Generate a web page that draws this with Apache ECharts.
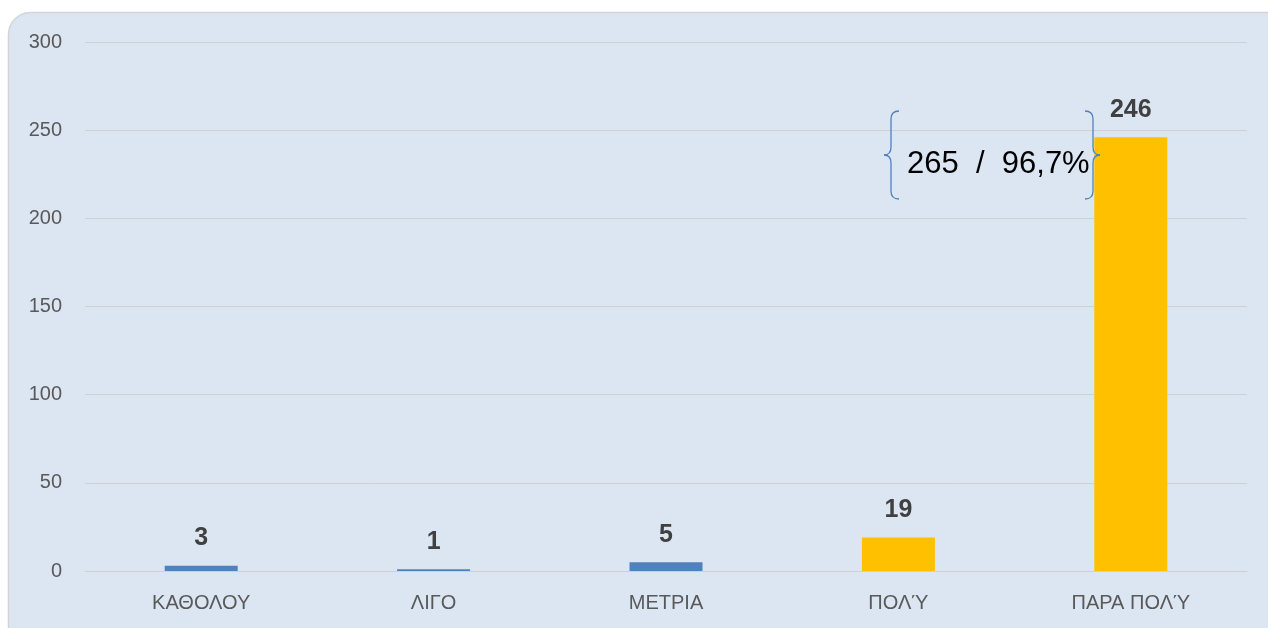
<!DOCTYPE html>
<html>
<head>
<meta charset="utf-8">
<script src="https://cdn.jsdelivr.net/npm/echarts@6/dist/echarts.min.js"></script>
<style>
  html, body { margin: 0; padding: 0; background: #fff; }
  #chart { width: 1268px; height: 628px; }
</style>
</head>
<body>
<div id="chart"></div>
<script>
// data
var categories = ['ΚΑΘΟΛΟΥ', 'ΛΙΓΟ', 'ΜΕΤΡΙΑ', 'ΠΟΛΎ', 'ΠΑΡΑ ΠΟΛΎ'];
var values = [3, 1, 5, 19, 246];
var barColors = ['#4f81bd', '#4f81bd', '#4f81bd', '#ffc000', '#ffc000'];
var yTicks = [0, 50, 100, 150, 200, 250, 300];
var noteText = '265  /  96,7%';

var font = '"Liberation Sans", Arial, sans-serif';

var chart = echarts.init(document.getElementById('chart'));

var option = {
  backgroundColor: '#ffffff',
  animation: false,
  grid: { left: 85, right: 21, top: 42, bottom: 57 },
  xAxis: {
    type: 'category',
    data: categories,
    axisTick: { show: false },
    axisLine: { lineStyle: { color: '#d0d0d0', width: 1 } },
    axisLabel: { color: '#595959', fontSize: 20, fontFamily: font, margin: 22 }
  },
  yAxis: {
    type: 'value',
    min: yTicks[0],
    max: yTicks[yTicks.length - 1],
    interval: 50,
    axisLine: { show: false },
    axisTick: { show: false },
    splitLine: { lineStyle: { color: '#d0d0d0', width: 1 } },
    axisLabel: { color: '#595959', fontSize: 20, fontFamily: font, margin: 23 }
  },
  series: [{
    type: 'bar',
    barWidth: 73,
    data: values.map(function (v, i) {
      return { value: v, itemStyle: { color: barColors[i] } };
    }),
    label: {
      show: true,
      position: 'top',
      distance: 15,
      color: '#404040',
      fontSize: 25,
      fontWeight: 'bold',
      fontFamily: font
    }
  }]
};

chart.setOption(option);

// curly brace built from lines and quadratic curves
// x = spine, dir = +1 ends point right / tip points left, -1 the other way
function brace(x, yTop, yBot, dir) {
  var st = { stroke: '#4f81bd', lineWidth: 1.3, fill: null };
  var ym = (yTop + yBot) / 2;
  var e = 8 * dir, t = -7 * dir;
  var parts = [
    { type: 'bezierCurve', shape: { x1: x + e, y1: yTop, cpx1: x, cpy1: yTop, x2: x, y2: yTop + 8 } },
    { type: 'line', shape: { x1: x, y1: yTop + 8, x2: x, y2: ym - 8 } },
    { type: 'bezierCurve', shape: { x1: x, y1: ym - 8, cpx1: x, cpy1: ym, x2: x + t, y2: ym } },
    { type: 'bezierCurve', shape: { x1: x + t, y1: ym, cpx1: x, cpy1: ym, x2: x, y2: ym + 8 } },
    { type: 'line', shape: { x1: x, y1: ym + 8, x2: x, y2: yBot - 8 } },
    { type: 'bezierCurve', shape: { x1: x, y1: yBot - 8, cpx1: x, cpy1: yBot, x2: x + e, y2: yBot } }
  ];
  parts.forEach(function (p) { p.style = st; p.z = 10; p.silent = true; });
  return parts;
}

var graphics = [
  {
    type: 'rect',
    z: -10,
    silent: true,
    shape: { x: 8.5, y: 12.5, width: 1300, height: 660, r: 22 },
    style: { fill: '#dce6f2', stroke: '#d4d4d4', lineWidth: 1.5 }
  },
  {
    type: 'text',
    z: 10,
    left: 907,
    top: 149,
    style: {
      text: noteText,
      fill: '#000000',
      fontSize: 31,
      fontFamily: font
    }
  }
].concat(brace(891, 111, 199, 1)).concat(brace(1093, 111, 199, -1));

chart.setOption({ graphic: graphics });
</script>
</body>
</html>
